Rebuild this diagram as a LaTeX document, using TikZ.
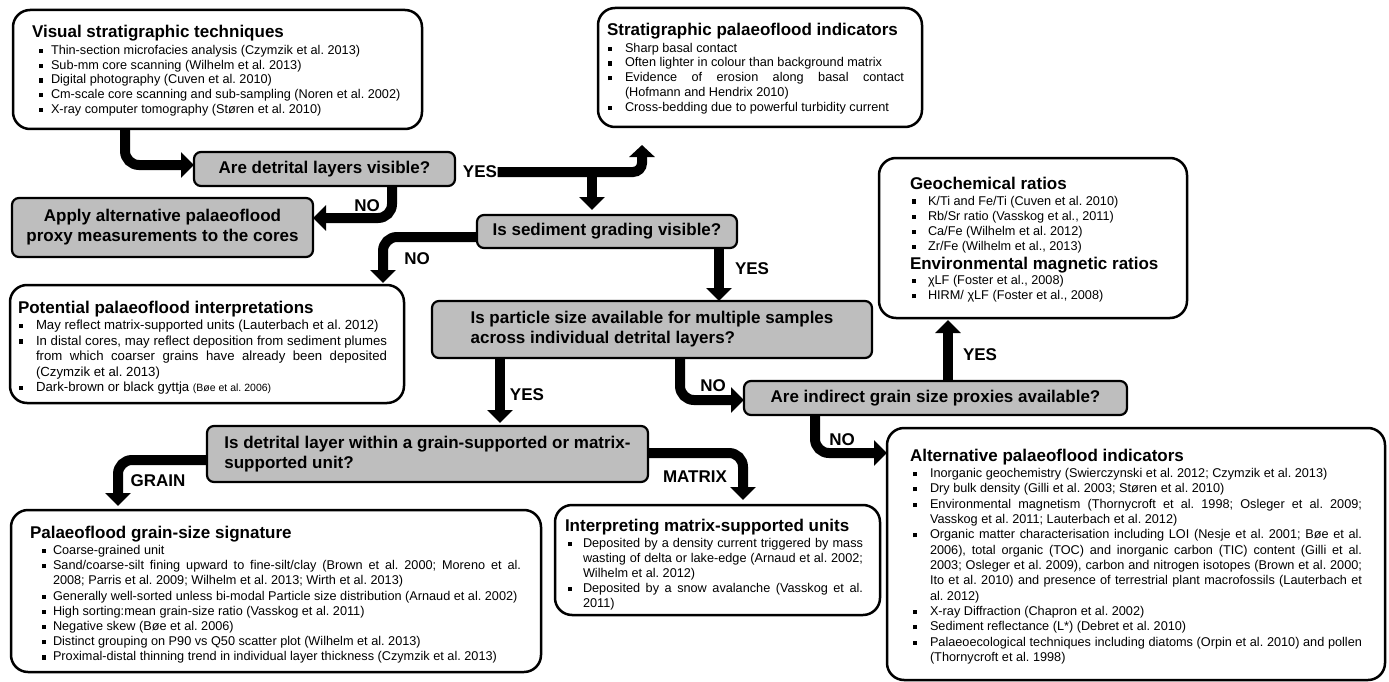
\documentclass[tikz,border=0pt]{standalone}
\usepackage{fontspec}
\setmainfont{Liberation Sans}
\usetikzlibrary{arrows.meta,calc}
\definecolor{greyc}{RGB}{190,190,190}
\newdimen\lsp \newdimen\jw \newdimen\txo \newdimen\mko
\newcommand{\zb}[1]{\setbox0\hbox{#1}\ht0=0pt\dp0=0pt\box0}
\newcommand{\zbj}[1]{\setbox0\hbox to\jw{#1}\ht0=0pt\dp0=0pt\box0}
\newcommand{\blt}{\hbox to\txo{\hskip\mko\vrule height 5.6pt depth -1.4pt width 4.2pt\hfil}}
\newcommand{\TT}[1]{\zb{\fontsize{17}{17}\selectfont\bfseries #1}}
\newcommand{\BB}[1]{\vskip\lsp\zb{\blt #1}}
\newcommand{\BJ}[1]{\vskip\lsp\zbj{\blt #1}}
\newcommand{\CC}[1]{\vskip\lsp\zb{\hskip\txo #1}}
\newcommand{\CJ}[1]{\vskip\lsp\zbj{\hskip\txo #1}}
\newcommand{\gap}[1]{\vskip#1}
\newcommand{\WC}[5]{\vbox to #2{\offinterlineskip\vskip#4\hbox to #1{\hskip#3\vtop{\offinterlineskip #5}\hss}\vss}}
\begin{document}
\frenchspacing
\begin{tikzpicture}[x=1pt,y=-1pt,
  wbox/.style={draw, line width=2.5pt, fill=white, rounded corners=17pt, inner sep=0pt, outer sep=0pt, anchor=north west, font=\fontsize{12.7}{15}\selectfont\frenchspacing},
  gbox/.style={draw, line width=2.2pt, fill=greyc, rounded corners=7pt, inner sep=0pt, outer sep=0pt, anchor=north west, font=\fontsize{17}{20}\selectfont\bfseries},
  lab/.style={font=\fontsize{17}{17}\selectfont\bfseries, inner sep=0.5pt},
  arr/.style={line width=10pt, -{Triangle[width=25pt,length=13pt]}, rounded corners=14pt},
  arrs/.style={line width=10pt, -{Triangle[width=25pt,length=12pt]}, rounded corners=9pt}]
\useasboundingbox (0,0) rectangle (1389,682);

% ---------- white boxes ----------
\node[wbox] (vis) at (13,10) {\WC{409pt}{119pt}{19pt}{28pt}{%
  \lsp=14.7pt\txo=19pt\mko=7pt
  \TT{Visual stratigraphic techniques}\gap{1.8pt}
  \BB{Thin-section microfacies analysis (Czymzik et al. 2013)}
  \BB{Sub-mm core scanning (Wilhelm et al. 2013)}
  \BB{Digital photography (Cuven et al. 2010)}
  \BB{Cm-scale core scanning and sub-sampling (Noren et al. 2002)}
  \BB{X-ray computer tomography (Støren et al. 2010)}}};

\node[wbox] (strat) at (598,8) {\WC{324pt}{119pt}{9pt}{28pt}{%
  \lsp=14.75pt\txo=18pt\mko=1pt\jw=297pt
  \TT{Stratigraphic palaeoflood indicators}\gap{1.45pt}
  \BB{Sharp basal contact}
  \BB{Often lighter in colour than background matrix}
  \BJ{Evidence of erosion along basal contact}
  \CC{(Hofmann and Hendrix 2010)}
  \BB{Cross-bedding due to powerful turbidity current}}};

\node[wbox] (geo) at (879,158) {\WC{308pt}{160pt}{31pt}{31pt}{%
  \lsp=15.2pt\txo=18pt\mko=2pt
  \TT{Geochemical ratios}\gap{0.8pt}
  \BB{K/Ti and Fe/Ti (Cuven et al. 2010)}
  \BB{Rb/Sr ratio (Vasskog et al., 2011)}
  \BB{Ca/Fe (Wilhelm et al. 2012)}
  \BB{Zr/Fe (Wilhelm et al., 2013)}
  \gap{19.2pt}\TT{Environmental magnetic ratios}\gap{-0.4pt}
  \BB{χLF (Foster et al., 2008)}
  \BB{HIRM/ χLF (Foster et al., 2008)}}};

\node[wbox, font=\fontsize{13.2}{15}\selectfont\frenchspacing] (pot) at (10,285) {\WC{394pt}{118pt}{8pt}{28pt}{%
  \lsp=15.5pt\txo=18pt\mko=1pt\jw=369pt
  \TT{Potential palaeoflood interpretations}\gap{1pt}
  \BB{May reflect matrix-supported units (Lauterbach et al. 2012)}
  \BJ{In distal cores, may reflect deposition from sediment plumes}
  \CJ{from which coarser grains have already been deposited}
  \CC{(Czymzik et al. 2013)}
  \BB{Dark-brown or black gyttja {\fontsize{10.5}{12}\selectfont(Bøe et al. 2006)}}}};

\node[wbox] (pal) at (11,510) {\WC{530pt}{162pt}{19pt}{28pt}{%
  \lsp=15.2pt\txo=23pt\mko=12pt\jw=491pt
  \TT{Palaeoflood grain-size signature}\gap{1.3pt}
  \BB{Coarse-grained unit}
  \BJ{Sand/coarse-silt fining upward to fine-silt/clay (Brown et al. 2000; Moreno et al.}
  \CC{2008; Parris et al. 2009; Wilhelm et al. 2013; Wirth et al. 2013)}
  \BB{Generally well-sorted unless bi-modal Particle size distribution (Arnaud et al. 2002)}
  \BB{High sorting:mean grain-size ratio (Vasskog et al. 2011)}
  \BB{Negative skew (Bøe et al. 2006)}
  \BB{Distinct grouping on P90 vs Q50 scatter plot (Wilhelm et al. 2013)}
  \BB{Proximal-distal thinning trend in individual layer thickness (Czymzik et al. 2013)}}};

\node[wbox] (int) at (555,505) {\WC{325pt}{110pt}{10pt}{26pt}{%
  \lsp=15pt\txo=18pt\mko=3pt\jw=298pt
  \TT{Interpreting matrix-supported units}\gap{1.5pt}
  \BJ{Deposited by a density current triggered by mass}
  \CJ{wasting of delta or lake-edge (Arnaud et al. 2002;}
  \CC{Wilhelm et al. 2012)}
  \BJ{Deposited by a snow avalanche (Vasskog et al.}
  \CC{2011)}}};

\node[wbox] (alt) at (887,428) {\WC{498pt}{252pt}{23pt}{33pt}{%
  \lsp=15.33pt\txo=20pt\mko=3pt\jw=452pt
  \TT{Alternative palaeoflood indicators}\gap{1.2pt}
  \BB{Inorganic geochemistry (Swierczynski et al. 2012; Czymzik et al. 2013)}
  \BB{Dry bulk density (Gilli et al. 2003; Støren et al. 2010)}
  \BJ{Environmental magnetism (Thornycroft et al. 1998; Osleger et al. 2009;}
  \CC{Vasskog et al. 2011; Lauterbach et al. 2012)}
  \BJ{Organic matter characterisation including LOI (Nesje et al. 2001; Bøe et al.}
  \CJ{2006), total organic (TOC) and inorganic carbon (TIC) content (Gilli et al.}
  \CJ{2003; Osleger et al. 2009), carbon and nitrogen isotopes (Brown et al. 2000;}
  \CJ{Ito et al. 2010) and presence of terrestrial plant macrofossils (Lauterbach et}
  \CC{al. 2012)}
  \BB{X-ray Diffraction (Chapron et al. 2002)}
  \BB{Sediment reflectance (L*) (Debret et al. 2010)}
  \BJ{Palaeoecological techniques including diatoms (Orpin et al. 2010) and pollen}
  \CC{(Thornycroft et al. 1998)}}};

% ---------- grey decision boxes ----------
\node[gbox, minimum width=261pt, minimum height=34pt] (detr) at (194,152) {Are detrital layers visible?};
\node[gbox, minimum width=301pt, minimum height=59pt, align=center] (apply) at (12,198) {Apply alternative palaeoflood\\proxy measurements to the cores};
\node[gbox, minimum width=260pt, minimum height=33pt] (sed) at (477,215) {Is sediment grading visible?};
\node[gbox, minimum width=440pt, minimum height=57pt, align=left] (part) at (432,301) {Is particle size available for multiple samples\\across individual detrital layers?};
\node[gbox, minimum width=383pt, minimum height=34pt] (ind) at (744,381) {Are indirect grain size proxies available?};
\node[gbox, minimum width=441pt, minimum height=56pt, align=left] (det2) at (207,426) {Is detrital layer within a grain-supported or matrix-\\supported unit?};

% ---------- labels ----------
\node[lab] (yes1) at (480,172) {YES};
\node[lab] (no1) at (367,206) {NO};
\node[lab] (no2) at (417,259) {NO};
\node[lab] (yes2) at (752,269) {YES};
\node[lab] (yes3) at (527,395) {YES};
\node[lab] (no3) at (713,386) {NO};
\node[lab] (yes4) at (980,355) {YES};
\node[lab] (no4) at (842,440) {NO};
\node[lab] (grain) at (158,481) {GRAIN};
\node[lab] (matrix) at (695,477) {MATRIX};

% ---------- connector coordinates ----------
\coordinate (c1) at ([xshift=112pt]vis.south west);
\coordinate (c2) at ([xshift=198pt]detr.south west);
\coordinate (c3) at ([xshift=44pt,yshift=-18pt]strat.south west);
\coordinate (c4) at ([xshift=115pt]sed.north west);
\coordinate (c5) at ([xshift=373pt,yshift=2pt]pot.north west);
\coordinate (c6) at ([xshift=242pt]sed.south west);
\coordinate (c7) at ([xshift=68pt]part.south west);
\coordinate (c7b) at (c7 |- det2.north);
\coordinate (c8) at ([xshift=248pt]part.south west);
\coordinate (c9) at ([xshift=204pt]ind.north west);
\coordinate (c9b) at (c9 |- geo.south);
\coordinate (c10) at ([xshift=71pt]ind.south west);
\coordinate (c10b) at ([yshift=-25pt]alt.north west);
\coordinate (c11) at ([xshift=107pt,yshift=4pt]pal.north west);
\coordinate (c12) at ([xshift=188pt,yshift=5pt]int.north west);

% ---------- connectors ----------
\draw[arr] (c1) |- ([yshift=4pt]detr.west);
\draw[arr] (c2) |- ([yshift=9.5pt]apply.east);
\draw[arrs] (yes1.east) -| (c3);
\draw[arr] (c4 |- yes1.east) -- ([yshift=5pt]c4);
\draw[arr] ([yshift=-5.5pt]sed.west) -| (c5);
\draw[arr] (c6) -- (c6 |- part.north);
\draw[arr] (c7) -- ([yshift=3pt]c7b);
\draw[arr] (c8) |- ([yshift=-2pt]ind.west);
\draw[arr] (c9) -- ([yshift=-2pt]c9b);
\draw[arr] (c10) |- (c10b);
\draw[arr] ([yshift=-6pt]det2.west) -| (c11);
\draw[arr] ([yshift=1pt]det2.east) -| (c12);
\end{tikzpicture}
\end{document}
